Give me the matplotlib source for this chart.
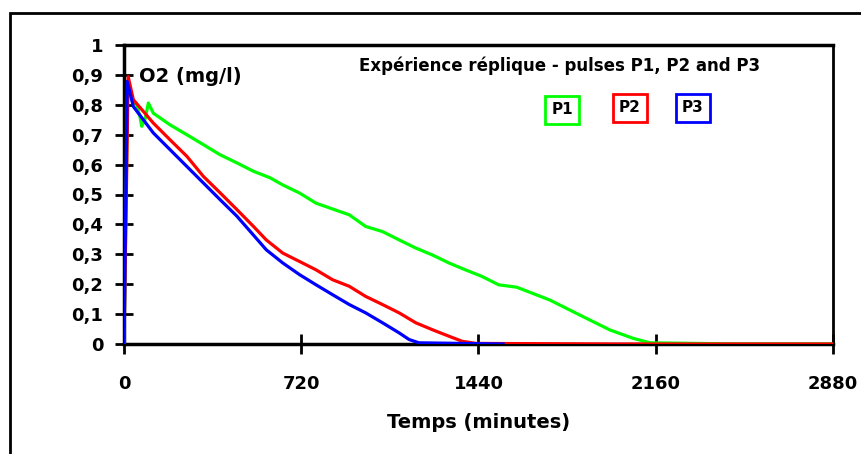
import matplotlib
matplotlib.use("Agg")
import matplotlib.pyplot as plt
from matplotlib.patches import Rectangle

plt.rcParams['font.family'] = ['DejaVu Sans']
plt.rcParams['font.weight'] = 'bold'

# Data (minutes, O2 mg/l)
t_p1 = [0, 15, 35, 51, 65, 72, 85, 99, 119, 187, 255, 322, 390, 458, 525, 593, 645, 713, 780,
        915, 982, 1050, 1118, 1185, 1252, 1320, 1387, 1454, 1522, 1595, 1730, 1866, 1974,
        2068, 2137, 2500, 2880]
o2_p1 = [0.0, 0.87, 0.81, 0.80, 0.76, 0.728, 0.75, 0.806, 0.772, 0.733, 0.70, 0.667, 0.633, 0.606,
         0.578, 0.556, 0.532, 0.505, 0.471, 0.432, 0.393, 0.376, 0.348, 0.321, 0.298, 0.271,
         0.248, 0.226, 0.198, 0.19, 0.147, 0.091, 0.047, 0.019, 0.004, 0.0, 0.0]

t_p2 = [0, 17, 38, 119, 187, 255, 322, 390, 458, 525, 578, 645, 713, 780, 847, 915, 982, 1050,
        1118, 1185, 1252, 1320, 1374, 1430, 2000, 2880]
o2_p2 = [0.0, 0.894, 0.817, 0.739, 0.683, 0.628, 0.561, 0.506, 0.45, 0.394, 0.348, 0.304, 0.276,
         0.248, 0.215, 0.193, 0.159, 0.132, 0.104, 0.071, 0.048, 0.026, 0.009, 0.002, 0.0, 0.0]

t_p3 = [0, 13, 38, 119, 187, 255, 322, 390, 458, 525, 578, 645, 713, 780, 847, 915, 982, 1050,
        1118, 1158, 1198, 1540]
o2_p3 = [0.0, 0.878, 0.794, 0.706, 0.65, 0.594, 0.539, 0.483, 0.428, 0.365, 0.315, 0.271, 0.232,
         0.198, 0.165, 0.132, 0.104, 0.071, 0.037, 0.015, 0.004, 0.0]

x_ticks = [0, 720, 1440, 2160, 2880]
y_ticks = [0, 0.1, 0.2, 0.3, 0.4, 0.5, 0.6, 0.7, 0.8, 0.9, 1]
y_labels = ['0', '0,1', '0,2', '0,3', '0,4', '0,5', '0,6', '0,7', '0,8', '0,9', '1']

fig = plt.figure(figsize=(8.62, 4.54), dpi=100)
ax = fig.add_axes([124/862, 1-344/454, (833-124)/862, (344-45)/454])

ax.plot(t_p1, o2_p1, color='#00ff00', lw=2.3, zorder=3)
ax.plot(t_p3, o2_p3, color='#0000ff', lw=2.3, zorder=4)
ax.plot(t_p2, o2_p2, color='#ff0000', lw=2.3, zorder=3.5)

ax.set_xlim(0, 2880)
ax.set_ylim(0, 1)
ax.set_xticks(x_ticks)
ax.set_xticklabels([str(v) for v in x_ticks], fontsize=13, fontweight='bold')
ax.set_yticks(y_ticks)
ax.set_yticklabels(y_labels, fontsize=13, fontweight='bold')
ax.tick_params(direction='inout', width=2)
ax.tick_params(axis='y', length=13, pad=8.5)
ax.tick_params(axis='x', length=14, pad=15)
for s in ['left', 'bottom', 'top']:
    ax.spines[s].set_linewidth(2.5)
ax.spines['right'].set_linewidth(2)
ax.set_xlabel('Temps (minutes)', fontsize=14, fontweight='bold', labelpad=15)

fig.text(139/862, 1-77/454, 'O2 (mg/l)', fontsize=14,
         fontweight='bold', va='center', ha='left')
fig.text(560/862, 1-66/454, 'Expérience réplique - pulses P1, P2 and P3', fontsize=12,
         fontweight='bold', ha='center', va='center')

for label, xc, yc, col in [('P1', 562, 110, '#00ff00'), ('P2', 630, 108, '#ff0000'), ('P3', 693, 108, '#0000ff')]:
    fig.text(xc/862, 1-yc/454, label, fontsize=11, fontweight='bold', ha='center', va='center',
             bbox=dict(boxstyle='square,pad=0.4', fc='white', ec=col, lw=2))

# outer frame (only left and top visible)
fig.patches.append(Rectangle((10/862, -0.5), 2, 1-13/454+0.5, transform=fig.transFigure,
                             fill=False, ec='black', lw=2))

fig.savefig('out.png', dpi=100)
